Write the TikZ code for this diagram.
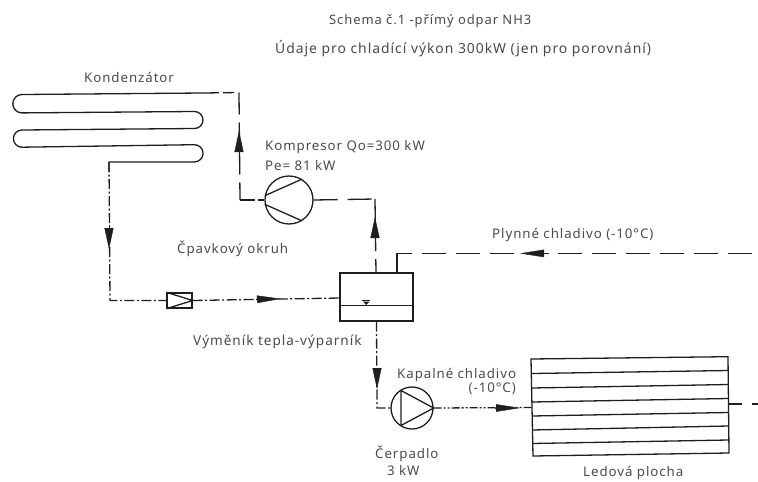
\documentclass[tikz,border=0pt]{standalone}
\usepackage{fontspec}
\setmainfont[LetterSpace=7]{Noto Sans}
\usetikzlibrary{arrows.meta}
\definecolor{ink}{HTML}{1E1E1E}
\definecolor{txt}{HTML}{4A4A4A}
\tikzset{
  pipe/.style={draw=ink,line width=1.3pt},
  gasline/.style={pipe,dash pattern=on 22pt off 8pt},
  longgas/.style={pipe,dash pattern=on 24pt off 10pt},
  chain/.style={pipe,dash pattern=on 10pt off 2.5pt on 2pt off 2.5pt},
  chaindd/.style={pipe,dash pattern=on 8pt off 2pt on 2pt off 2pt on 2pt off 2pt},
  flow/.style={draw=ink,line width=.4pt,-{Triangle[length=24pt,width=7.5pt,fill=ink]}},
  flowshort/.style={draw=ink,line width=.4pt,-{Triangle[length=21pt,width=9pt,fill=ink]}},
  label/.style={font=\fontsize{13.3}{16}\selectfont,text=txt,inner sep=0pt,anchor=west,align=left},
  machine/.style={circle,draw=ink,line width=1.3pt,inner sep=0pt},
  box/.style={rectangle,draw=ink,line width=1.4pt,inner sep=0pt}
}
\begin{document}
\begin{tikzpicture}[x=1pt,y=-1pt]
\useasboundingbox (0,0) rectangle (758,482);
% titles
\node[label,font=\fontsize{13}{16}\selectfont] (t1) at (329,21) {Schema č.1 -přímý odpar NH3};
\node[label,font=\fontsize{13.9}{16}\selectfont] (t2) at (275,49) {Údaje pro chladící výkon 300kW (jen pro porovnání)};
\node[label] (l1) at (84,77) {Kondenzátor};
\node[label] (l2) at (265,147) {Kompresor Qo=300 kW};
\node[label] (l3) at (265,166) {Pe= 81 kW};
\node[label] (l4) at (177,249) {Čpavkový okruh};
\node[label] (l5) at (492,235) {Plynné chladivo (-10°C)};
\node[label,font=\fontsize{13.6}{16}\selectfont] (l6) at (193,342) {Výměník tepla-výparník};
\node[label] (l7) at (397,375) {Kapalné chladivo};
\node[label,anchor=east] (l8) at (516,389) {(-10°C)};
\node[label] (l9) at (375,454) {Čerpadlo};
\node[label] (l10) at (387,471) {3 kW};
\node[label] (l11) at (583,473) {Ledová plocha};
% equipment
\node[machine,minimum size=48pt] (comp) at (289,200) {};
\node[machine,minimum size=42pt] (pump) at (412,408) {};
\node[box,minimum width=73pt,minimum height=48pt] (exch) at (376.5,297) {};
\node[box,minimum width=25pt,minimum height=15pt] (valve) at (179.5,300.5) {};
% compressor blades
\draw[pipe] (comp.170) -- (comp.58);
\draw[pipe] (comp.190) -- (comp.302);
% pump triangle
\coordinate (pa) at (401,390.5);
\coordinate (pb) at (401,425.5);
\draw[pipe,line join=round] (pa) -- (pump.east) -- (pb) -- cycle;
% valve
\draw[pipe] (valve.north west) -- (valve.east) -- (valve.south west);
% liquid level
\coordinate (lva) at (340,305);
\coordinate (lvb) at (413,305);
\draw[pipe,line width=1pt] (lva) -- (lvb);
\fill[ink] (363,301.5) -- (369.5,301.5) -- (366.2,305) -- cycle;
\draw[ink,line width=.7pt] (362,300.5) -- (370,300.5);
% condenser
\coordinate (c0) at (203,93);
\coordinate (c2) at (109,162);
\draw[pipe,line join=round] (c0) -- (22,94.5) arc[start angle=270,end angle=90,radius=9.2] -- (194.5,111.5)
   arc[start angle=270,end angle=450,radius=8.5] -- (22,130)
   arc[start angle=270,end angle=90,radius=8.6] -- (194.5,144.7)
   arc[start angle=270,end angle=450,radius=8.6] -- (c2) -- (109,172);
% gas line condenser <-> compressor
\coordinate (g1) at (239,92.5);
\coordinate (g2) at (240,200);
\draw[pipe,dash pattern=on 16pt off 4pt on 11pt off 100pt] (c0) -- (g1);
\draw[gasline] (g1) -- (g2);
\draw[pipe,dash pattern=on 15pt off 3pt] (g2) -- (comp.west);
% compressor -> exchanger
\coordinate (g3) at (375,199);
\coordinate (ex1) at (376,273);
\draw[longgas] (comp.east) -- (g3);
\draw[gasline] (g3) -- (ex1);
% incoming gas
\coordinate (ex2) at (397,273);
\coordinate (g4) at (397,253.4);
\coordinate (g5) at (758,253.4);
\draw[pipe] (ex2) -- (g4);
\draw[longgas,dash pattern=on 24pt off 10pt,dash phase=9pt] (g4) -- (g5);
% liquid loop
\coordinate (v1) at (110,300.5);
\draw[chain] (c2) -- (v1) -- (valve.west);
\coordinate (exl) at (340,298);
\draw[chain] (valve.east) -- (exl);
% exchanger -> pump
\coordinate (d1) at (377,408);
\draw[chain] (exch.south) -- (d1) -- (pump.west);
% ice plate
\coordinate (ia) at (531,359);
\coordinate (ib) at (728,356.7);
\coordinate (ic) at (729,453);
\coordinate (id) at (533,456);
\draw[pipe] (ia) -- (ib) -- (ic) -- (id) -- cycle;
\foreach \yl/\yr in {373.5/370.5, 388/384.5, 402/398.5, 416/412.5, 430/426, 443.5/440}{
  \draw[pipe] (532,\yl) -- (728.5,\yr);
}
\coordinate (iw) at (532,407.5);
\coordinate (ie) at (729,404);
\coordinate (ir) at (758,404);
\draw[chaindd] (pump.east) -- (iw);
\draw[pipe,dash pattern=on 13pt off 10pt] (ie) -- (ir);
% arrowheads
\coordinate (a1s) at (239,152); \coordinate (a1e) at (239,131);
\draw[flowshort] (a1s) -- (a1e);
\coordinate (a2s) at (375,238); \coordinate (a2e) at (375,217);
\draw[flowshort] (a2s) -- (a2e);
\coordinate (a3s) at (549,253.4); \coordinate (a3e) at (520,253.4);
\draw[flow] (a3s) -- (a3e);
\coordinate (a4s) at (109,225); \coordinate (a4e) at (109,249);
\draw[flowshort] (a4s) -- (a4e);
\coordinate (a5s) at (256,299.3); \coordinate (a5e) at (281,298.8);
\draw[flow] (a5s) -- (a5e);
\coordinate (a6s) at (377,368); \coordinate (a6e) at (377,389);
\draw[flowshort] (a6s) -- (a6e);
\coordinate (a7s) at (495,408); \coordinate (a7e) at (520,408);
\draw[flow] (a7s) -- (a7e);
\end{tikzpicture}
\end{document}
